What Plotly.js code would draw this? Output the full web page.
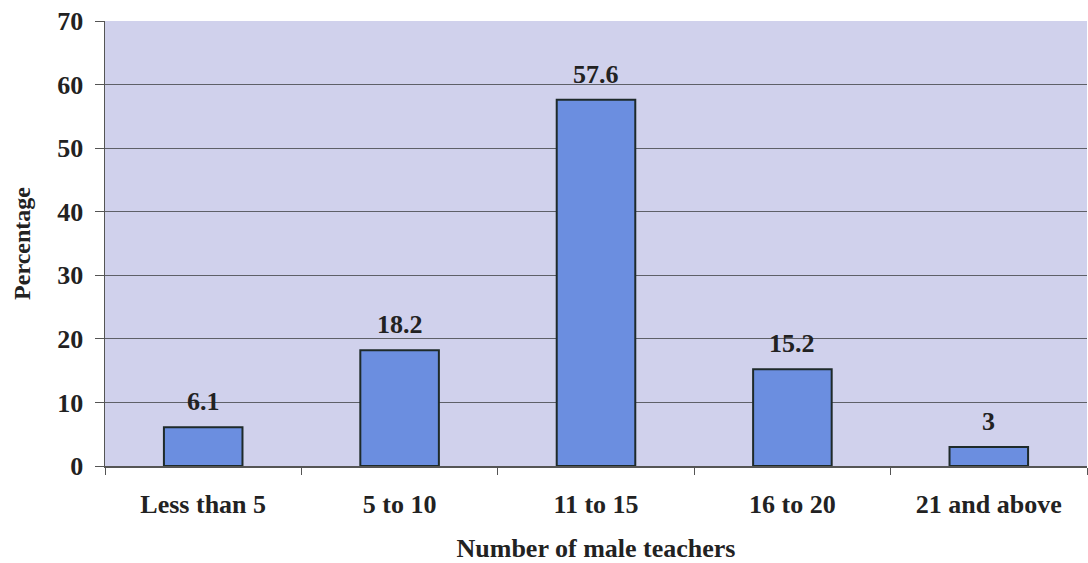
<!DOCTYPE html>
<html><head><meta charset="utf-8">
<script src="https://cdn.plot.ly/plotly-3.0.1.min.js"></script>
<style>html,body{margin:0;padding:0;background:#fff}#c{width:1088px;height:563px}</style>
</head><body><div id="c"></div>
<script>
const categories = ["Less than 5", "5 to 10", "11 to 15", "16 to 20", "21 and above"];
const percentages = [6.1, 18.2, 57.6, 15.2, 3];
const yTicks = [0, 10, 20, 30, 40, 50, 60, 70];

const font = "'Liberation Serif', 'Times New Roman', serif";
const trace = {
  type: "bar", x: categories, y: percentages,
  marker: {color: "#6b8ee0", line: {color: "#1e2a2a", width: 2}},
  hoverinfo: "skip"
};
const annotations = categories.map((c, i) => ({
  x: c, y: percentages[i], xref: "x", yref: "y", text: "<b>" + percentages[i] + "</b>",
  showarrow: false, yanchor: "bottom", yshift: 9,
  font: {family: font, size: 26, color: "#222"}
}));
const layout = {
  width: 1088, height: 563,
  margin: {l: 105, r: 1, t: 21, b: 97},
  paper_bgcolor: "#ffffff", plot_bgcolor: "#d0d1ec",
  bargap: 0.6, showlegend: false,
  font: {family: font, color: "#222", size: 26},
  xaxis: {
    type: "category", showgrid: false, showline: true, linecolor: "#555", linewidth: 1.5,
    ticks: "outside", tickson: "boundaries", ticklen: 7, tickcolor: "#555",
    ticklabelstandoff: 14,
    tickfont: {family: font, size: 26, color: "#222", weight: "bold"},
    title: {text: "<b>Number of male teachers</b>", font: {family: font, size: 26, color: "#222"}, standoff: 21}
  },
  yaxis: {
    range: [0, 70], tickvals: yTicks, ticktext: yTicks.map(String),
    showgrid: true, gridcolor: "#5e6068", gridwidth: 1, zeroline: false,
    showline: true, linecolor: "#555", linewidth: 1.5,
    ticks: "outside", ticklen: 9, tickcolor: "#555",
    ticklabelstandoff: 6,
    tickfont: {family: font, size: 26, color: "#222", weight: "bold"},
    title: {text: "<b>Percentage</b>", font: {family: font, size: 24, color: "#222"}, standoff: 20}
  },
  annotations: annotations
};
Plotly.newPlot("c", [trace], layout, {displayModeBar: false, staticPlot: true});
</script></body></html>
